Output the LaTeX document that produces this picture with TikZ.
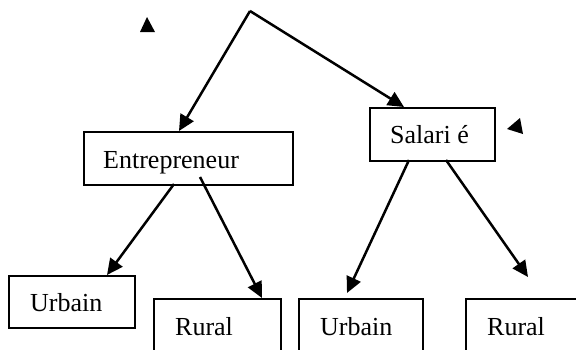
\documentclass[tikz,border=0pt]{standalone}
\usepackage{fontspec}
\setmainfont{Liberation Serif}
\usetikzlibrary{arrows.meta}
\begin{document}
\begin{tikzpicture}[x=1pt,y=-1pt,
  box/.style={draw, line width=1.6pt, inner sep=0pt, anchor=north west},
  lbl/.style={font=\fontsize{26}{30}\selectfont, inner sep=0pt, anchor=base west},
  arr/.style={line width=2.5pt, -{Triangle[length=16pt,width=15pt]}}]
\useasboundingbox (0,0) rectangle (576,349);
\clip (0,0) rectangle (576,349);
% boxes
\node[box, minimum width=209pt, minimum height=53pt] (ent) at (83,131) {};
\node[box, minimum width=125pt, minimum height=53pt] (sal) at (369,107) {};
\node[box, minimum width=126pt, minimum height=52pt] (urb1) at (8,275) {};
\node[box, minimum width=127pt, minimum height=80pt] (rur1) at (153,298) {};
\node[box, minimum width=124pt, minimum height=80pt] (urb2) at (298,298) {};
\node[box, minimum width=140pt, minimum height=80pt] (rur2) at (465,298) {};
% labels
\node[lbl] (entT) at (103,168) {Entrepreneur};
\node[lbl] (salT) at (390,143) {Salari é};
\node[lbl] (urb1T) at (30,311) {Urbain};
\node[lbl] (rur1T) at (175,335) {Rural};
\node[lbl] (urb2T) at (320,335) {Urbain};
\node[lbl] (rur2T) at (487,335) {Rural};
% connector end points
\coordinate (apex) at (250,11);
\coordinate (entIn) at (179,131);
\coordinate (salIn) at (404,107);
\coordinate (entA) at (174,184);
\coordinate (entB) at (200,177);
\coordinate (urb1In) at (107,275);
\coordinate (rur1In) at (262,298);
\coordinate (salA) at (409,160);
\coordinate (salB) at (446,160);
\coordinate (urb2In) at (347,293);
\coordinate (rur2In) at (528,277);
% connectors
\draw[arr] (apex) -- (entIn);
\draw[arr] (apex) -- (salIn);
\draw[arr] (entA) -- (urb1In);
\draw[arr] (entB) -- (rur1In);
\draw[arr] (salA) -- (urb2In);
\draw[arr] (salB) -- (rur2In);
% stray triangles
\fill (147,17) -- (155,32) -- (140,32) -- cycle;
\fill (507,129) -- (520,118) -- (523,134) -- cycle;
\end{tikzpicture}
\end{document}
